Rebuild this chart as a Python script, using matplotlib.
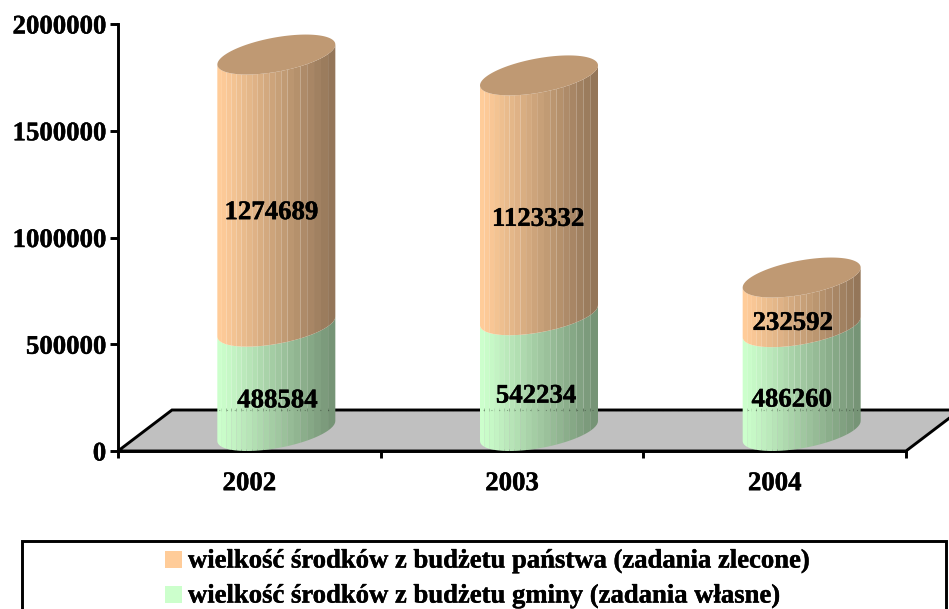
import numpy as np
import matplotlib
matplotlib.use('Agg')
import matplotlib.pyplot as plt
import matplotlib.patheffects as pe
from matplotlib.patches import Polygon, Rectangle
from matplotlib.collections import PolyCollection

plt.rcParams['font.family'] = ['Liberation Serif', 'DejaVu Serif']
plt.rcParams['font.weight'] = 'bold'

years = ['2002', '2003', '2004']
gmina = [488584, 542234, 486260]
panstwo = [1274689, 1123332, 232592]
legend_labels = ['wielkość środków z budżetu państwa (zadania zlecone)',
                 'wielkość środków z budżetu gminy (zadania własne)']
yticks = [0, 500000, 1000000, 1500000, 2000000]

orange = np.array([0xFF, 0xCC, 0x99]) / 255
green = np.array([0xCC, 0xFF, 0xCC]) / 255

W, H = 949, 609
fig = plt.figure(figsize=(W / 100, H / 100), dpi=100)
ax = fig.add_axes([118 / W, (H - 451) / H, 788 / W, 427 / H])
ax.patch.set_alpha(0)
ax.set_xlim(-0.5, 2.5)
ax.set_ylim(0, 2000000)

# one pixel in data units
px = 3 / 788
py = 2000000 / 427

heavy = [pe.withStroke(linewidth=0.3, foreground='black')]

# floor of the 3d box
depth_x, depth_y = 54 * px, 41 * py
ax.add_patch(Polygon([(-0.5, 0), (-0.5 + depth_x, depth_y), (2.5 + depth_x, depth_y), (2.5, 0)],
                     closed=True, fc='#C0C0C0', ec='black', lw=2.1, clip_on=False, zorder=1))

# cylinder shape, the lowest point of the ellipse sits on the value
shift = 27 * px
rx = 59 * px
lift = 20 * py
tilt = 10 * py
bulge = 17.3 * py
n_strips = 20


def edge(cx, val, t):
    x = cx + rx * np.cos(t)
    y = val + lift + tilt * np.cos(t) - bulge * np.sin(t)
    return x, y


def cylinder(cx, low, high, color):
    # strips get narrower towards the right side
    fr = np.linspace(-1, 1, n_strips + 1)
    ts = np.arccos(np.clip(fr - 0.12 * (1 - fr ** 2), -1, 1))
    polys = []
    cols = []
    for i in range(n_strips):
        tt = np.linspace(ts[i], ts[i + 1], 6)
        xb, yb = edge(cx, low, tt)
        xt, yt = edge(cx, high, tt)
        polys.append(np.column_stack([np.r_[xb, xt[::-1]], np.r_[yb, yt[::-1]]]))
        f = 1.0 - 0.42 * (i / (n_strips - 1)) ** 1.2
        cols.append(color * f)
    ax.add_collection(PolyCollection(polys, facecolors=cols, linewidths=0, antialiaseds=True,
                                     clip_on=False, zorder=3))


for i, year in enumerate(years):
    cx = i + shift
    top = gmina[i] + panstwo[i]
    cylinder(cx, 0, gmina[i], green)
    cylinder(cx, gmina[i], top, orange)
    tt = np.linspace(0, 2 * np.pi, 120)
    xe, ye = edge(cx, top, tt)
    ax.add_patch(Polygon(np.column_stack([xe, ye]), closed=True, fc=orange * 0.75, ec='none',
                         clip_on=False, zorder=4))

# back line of the floor faintly visible through the cylinders
ax.plot([-0.5 + depth_x, 2.5], [depth_y, depth_y], color='black', lw=0.8, ls=(0, (1, 6)),
        alpha=0.3, zorder=5, clip_on=False)

# value labels
dx_top = [-5, -1, -9]
dx_low = [1, -3, -10]
dy_top = [-2, -4, -1]
dy_low = [-2, -3, -1]
for i in range(3):
    cx = i + shift
    ax.text(cx + dx_top[i] * px, gmina[i] + panstwo[i] / 2 + dy_top[i] * py, str(panstwo[i]),
            ha='center', va='center', fontsize=19.3, fontweight='bold', color='black', zorder=6,
            path_effects=heavy)
    ax.text(cx + dx_low[i] * px, gmina[i] / 2 + dy_low[i] * py, str(gmina[i]),
            ha='center', va='center', fontsize=19.3, fontweight='bold', color='black', zorder=6,
            path_effects=heavy)

for s in ['top', 'right']:
    ax.spines[s].set_visible(False)
for s in ['left', 'bottom']:
    ax.spines[s].set_linewidth(2.1)
    ax.spines[s].set_zorder(2)
ax.set_xticks([-0.5, 0.5, 1.5, 2.5])
ax.set_xticklabels([])
ax.set_xticks([0, 1, 2], labels=years, minor=True)
ax.tick_params(axis='x', which='major', length=5, width=2.1, direction='out')
ax.tick_params(axis='x', which='minor', length=0, pad=14.5, labelsize=19.3)
ax.set_yticks(yticks)
ax.set_yticklabels([str(v) for v in yticks], fontsize=19.3, fontweight='bold')
ax.tick_params(axis='y', length=5.5, width=2.1, direction='out', pad=3)
for lab in ax.get_xticklabels(minor=True) + ax.get_yticklabels():
    lab.set_fontweight('bold')
    lab.set_path_effects(heavy)

# legend box runs off the bottom of the picture
lg = fig.add_axes([0, 0, 1, 1])
lg.set_xlim(0, W)
lg.set_ylim(H, 0)
lg.axis('off')
lg.patch.set_alpha(0)
lg.add_patch(Rectangle((22.5, 541), 924, 90, fc='white', ec='black', lw=2.1))
for y, col, lab in zip([559.5, 594.5], [orange, green], legend_labels):
    lg.add_patch(Rectangle((165, y - 8.5), 17, 17, fc=col, ec='none'))
    lg.text(188, y + 1.5, lab, fontsize=19.2, fontweight='bold', ha='left', va='center', color='black',
            path_effects=heavy)

fig.savefig('out.png', dpi=100)
